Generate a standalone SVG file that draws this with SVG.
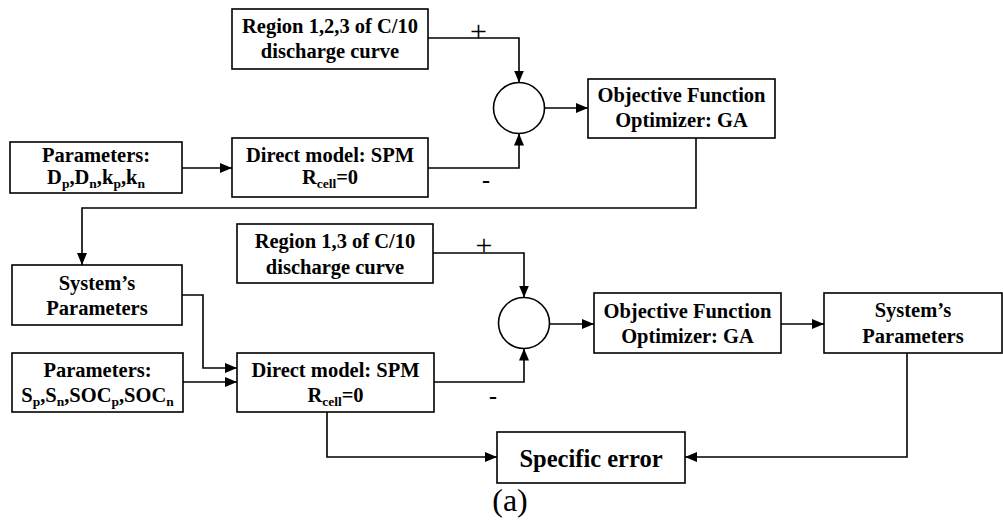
<svg xmlns="http://www.w3.org/2000/svg" width="1003" height="525" viewBox="0 0 1003 525">
  <style>
    .box { fill: #fff; stroke: #000; stroke-width: 1.6; }
    .sum { fill: #fff; stroke: #000; stroke-width: 1.6; }
    .wire { fill: none; stroke: #000; stroke-width: 1.6; marker-end: url(#arrow); }
    .lbl { font-family: "Liberation Serif", "Times New Roman", serif; font-weight: bold; font-size: 20.5px; text-anchor: middle; fill: #000; }
    .big { font-size: 24.5px; }
    .sign { font-family: "Liberation Serif", "Times New Roman", serif; font-size: 30px; text-anchor: middle; fill: #000; }
    .minus { font-family: "Liberation Serif", "Times New Roman", serif; font-size: 24px; font-weight: bold; text-anchor: middle; fill: #000; }
    .cap { font-family: "Liberation Serif", "Times New Roman", serif; font-size: 32px; text-anchor: middle; fill: #000; }
    .sub { font-size: 13.5px; }
  </style>
  <defs>
    <marker id="arrow" markerUnits="userSpaceOnUse" markerWidth="13" markerHeight="11" refX="12" refY="5" orient="auto">
      <path d="M0,0 L12,5 L0,10 Z" fill="#000"/>
    </marker>
  </defs>

  <rect width="1003" height="525" fill="#fff"/>

  <!-- connectors -->
  <g id="connectors">
    <polyline class="wire" points="428,38 519,38 519,82.5"/>
    <polyline class="wire" points="182,168 232,168"/>
    <polyline class="wire" points="428,168 519,168 519,133.5"/>
    <polyline class="wire" points="544.5,108 588,108"/>
    <polyline class="wire" points="696,138 696,208 82,208 82,265"/>
    <polyline class="wire" points="182,295 203,295 203,368 237,368"/>
    <polyline class="wire" points="183,382 237,382"/>
    <polyline class="wire" points="433,253 524,253 524,297.5"/>
    <polyline class="wire" points="434,382 524,382 524,348.5"/>
    <polyline class="wire" points="549.5,324 594,324"/>
    <polyline class="wire" points="781,324 824,324"/>
    <polyline class="wire" points="907,353 907,457 685,457"/>
    <polyline class="wire" points="327,412 327,457 497,457"/>
  </g>

  <!-- sign labels at summing junctions -->
  <g id="signs">
    <text class="sign" x="478.5" y="40.5">+</text>
    <text class="minus" x="486" y="188">-</text>
    <text class="sign" x="484" y="255">+</text>
    <text class="minus" x="493" y="404">-</text>
  </g>

  <g id="region123">
    <rect class="box" x="232" y="9" width="196" height="60"/>
    <text class="lbl" x="330" y="33">Region 1,2,3 of C/10</text>
    <text class="lbl" x="330" y="58">discharge curve</text>
  </g>

  <g id="params-d">
    <rect class="box" x="10" y="142" width="172" height="51"/>
    <text class="lbl" x="96" y="162">Parameters:</text>
    <text class="lbl" x="96" y="184">D<tspan class="sub" dy="4">p</tspan><tspan dy="-4">,D</tspan><tspan class="sub" dy="4">n</tspan><tspan dy="-4">,k</tspan><tspan class="sub" dy="4">p</tspan><tspan dy="-4">,k</tspan><tspan class="sub" dy="4">n</tspan></text>
  </g>

  <g id="direct-model-1">
    <rect class="box" x="232" y="138" width="196" height="59"/>
    <text class="lbl" x="330" y="162">Direct model: SPM</text>
    <text class="lbl" x="330" y="184">R<tspan class="sub" dy="4">cell</tspan><tspan dy="-4">=0</tspan></text>
  </g>

  <g id="sum-1">
    <circle class="sum" cx="519" cy="108" r="25.5"/>
  </g>

  <g id="objective-1">
    <rect class="box" x="588" y="79" width="187" height="59"/>
    <text class="lbl" x="681.5" y="102">Objective Function</text>
    <text class="lbl" x="681.5" y="127">Optimizer: GA</text>
  </g>

  <g id="system-params-1">
    <rect class="box" x="12" y="265" width="170" height="60"/>
    <text class="lbl" x="97" y="290">System’s</text>
    <text class="lbl" x="97" y="315">Parameters</text>
  </g>

  <g id="region13">
    <rect class="box" x="237" y="224" width="196" height="59"/>
    <text class="lbl" x="335" y="248">Region 1,3 of C/10</text>
    <text class="lbl" x="335" y="274">discharge curve</text>
  </g>

  <g id="sum-2">
    <circle class="sum" cx="524" cy="323" r="25.5"/>
  </g>

  <g id="objective-2">
    <rect class="box" x="594" y="293" width="187" height="60"/>
    <text class="lbl" x="687.5" y="318">Objective Function</text>
    <text class="lbl" x="687.5" y="343">Optimizer: GA</text>
  </g>

  <g id="system-params-2">
    <rect class="box" x="824" y="293" width="178" height="60"/>
    <text class="lbl" x="913" y="317">System’s</text>
    <text class="lbl" x="913" y="343">Parameters</text>
  </g>

  <g id="params-s">
    <rect class="box" x="12" y="353" width="171" height="59"/>
    <text class="lbl" x="97.5" y="377">Parameters:</text>
    <text class="lbl" x="97.5" y="402">S<tspan class="sub" dy="4">p</tspan><tspan dy="-4">,S</tspan><tspan class="sub" dy="4">n</tspan><tspan dy="-4">,SOC</tspan><tspan class="sub" dy="4">p</tspan><tspan dy="-4">,SOC</tspan><tspan class="sub" dy="4">n</tspan></text>
  </g>

  <g id="direct-model-2">
    <rect class="box" x="237" y="353" width="197" height="59"/>
    <text class="lbl" x="335.5" y="377">Direct model: SPM</text>
    <text class="lbl" x="335.5" y="402">R<tspan class="sub" dy="4">cell</tspan><tspan dy="-4">=0</tspan></text>
  </g>

  <g id="specific-error">
    <rect class="box" x="497" y="432" width="188" height="51"/>
    <text class="lbl big" x="591" y="467">Specific error</text>
  </g>

  <text class="cap" x="510" y="511">(a)</text>
</svg>
